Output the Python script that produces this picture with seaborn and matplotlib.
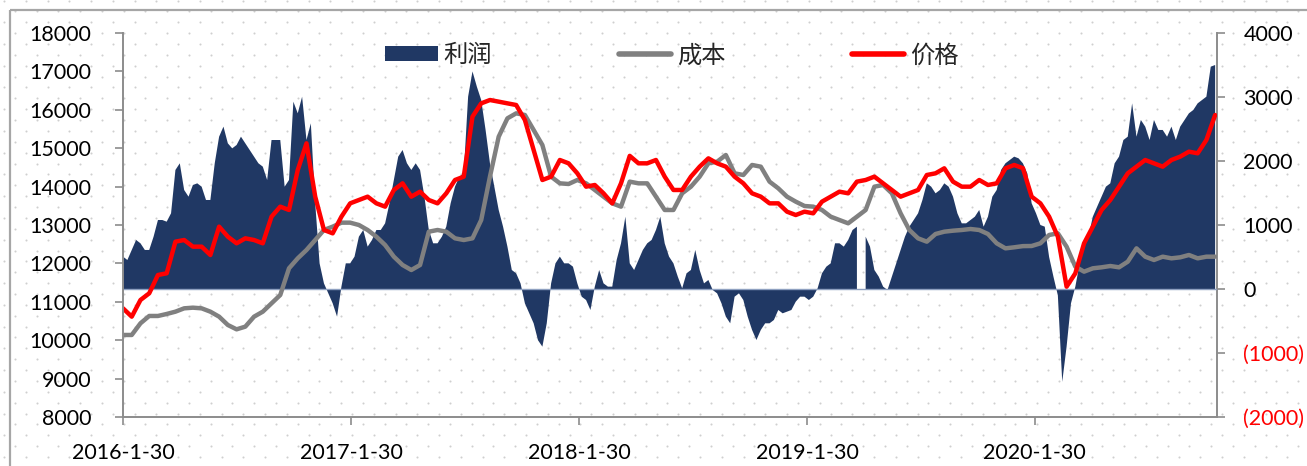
import numpy as np
import pandas as pd
import matplotlib
matplotlib.use("Agg")
import matplotlib.pyplot as plt
import seaborn as sns
from matplotlib.lines import Line2D
from matplotlib.patches import Patch

# ---------------- data ----------------
start_date = "2016-01-30"

# price & cost: 14-day steps
price = [10830, 10613, 11047, 11221, 11698, 11742, 12566, 12609, 12436, 12436,
         12219, 12957, 12696, 12523, 12653, 12609, 12523, 13217, 13478, 13391,
         14432, 15127, 13738, 12870, 12783, 13217, 13564, 13651, 13738, 13564,
         13478, 13912, 14085, 13738, 13868, 13651, 13564, 13825, 14172, 14259,
         15821, 16168, 16255, 16212, 16168, 16125, 15734, 14953, 14172, 14259,
         14693, 14606, 14346, 13998, 14042, 13825, 13564, 14085, 14800, 14606,
         14606, 14693, 14259, 13912, 13912, 14259, 14519, 14736, 14606, 14519,
         14259, 14085, 13825, 13738, 13564, 13564, 13347, 13260, 13347, 13304,
         13608, 13738, 13868, 13825, 14129, 14172, 14259, 14085, 13912, 13738,
         13825, 13912, 14302, 14346, 14476, 14129, 13998, 13998, 14172, 14042,
         14085, 14476, 14563, 14480, 13738, 13564, 13217, 12696, 11394, 11742,
         12523, 12957, 13391, 13651, 13998, 14346, 14519, 14693, 14606, 14519,
         14693, 14780, 14910, 14867, 15214, 15864]

cost = [10136, 10136, 10440, 10631, 10631, 10683, 10743, 10830, 10847, 10830,
        10743, 10613, 10396, 10283, 10353, 10613, 10743, 10960, 11177, 11872,
        12132, 12349, 12609, 12870, 12957, 13061, 13061, 13000, 12870, 12696,
        12479, 12175, 11958, 11828, 11958, 12826, 12870, 12826, 12653, 12609,
        12653, 13130, 14259, 15300, 15778, 15908, 15865, 15474, 15083, 14259,
        14085, 14068, 14172, 14085, 13912, 13738, 13564, 13478, 14129, 14085,
        14085, 13738, 13391, 13391, 13825, 13998, 14259, 14606, 14649, 14823,
        14346, 14302, 14563, 14519, 14129, 13955, 13738, 13608, 13495, 13478,
        13391, 13217, 13130, 13044, 13217, 13391, 13998, 14042, 13825, 13304,
        12870, 12653, 12566, 12766, 12826, 12852, 12870, 12896, 12870, 12766,
        12523, 12392, 12419, 12450, 12453, 12523, 12740, 12783, 12436, 11915,
        11785, 11872, 11898, 11932, 11898, 12045, 12392, 12175, 12089, 12175,
        12132, 12158, 12219, 12132, 12175, 12175]

# profit: 7-day steps (nan = missing data)
profit = [506, 453, 610, 766, 714, 610, 610, 818, 1078, 1078,
          1052, 1183, 1860, 1964, 1547, 1443, 1625, 1651, 1599, 1391,
          1391, 1964, 2380, 2537, 2276, 2198, 2250, 2380, 2276, 2172,
          2068, 1964, 1912, 1703, 2328, 2328, 2328, 1599, 1703, 2927,
          2745, 3005, 2328, 2589, 1339, 401, 88, -68, -224, -432,
          37, 401, 401, 506, 818, 922, 662, 766, 922, 922,
          1026, 1339, 1703, 2068, 2172, 1964, 1860, 1964, 1860, 1443,
          922, 714, 714, 818, 974, 1339, 1599, 1755, 1807, 3005,
          3400, 3162, 2953, 2485, 1964, 1599, 1235, 974, 662, 297,
          245, 88, -224, -380, -536, -800, -901, -536, 88, 401,
          506, 401, 401, 349, 88, -120, -172, -328, 37, 297,
          88, 37, 37, 453, 714, 1130, 401, 297, 453, 610,
          714, 766, 922, 1130, 714, 506, 401, 193, 11, 245,
          297, 610, 297, 88, 141, -16, -68, -224, -432, -536,
          -120, -68, -172, -432, -640, -797, -640, -536, -536, -484,
          -328, -380, -354, -328, -198, -120, -120, -172, -120, 11,
          245, 349, 401, 714, 714, 662, 766, 922, 974, np.nan,
          818, 662, 297, 193, 37, -16, 193, 401, 610, 818,
          974, 1078, 1183, 1391, 1651, 1599, 1495, 1547, 1651, 1599,
          1443, 1183, 1026, 1026, 1078, 1130, 1235, 974, 1130, 1443,
          1547, 1860, 1964, 2016, 2068, 2042, 1964, 1807, 1339, 1183,
          1000, 974, 500, 190, -100, -1450, -900, -224, 37, 401,
          714, 818, 1130, 1287, 1443, 1599, 1651, 1964, 2068, 2328,
          2380, 2901, 2380, 2641, 2537, 2328, 2641, 2485, 2485, 2380,
          2537, 2328, 2537, 2641, 2745, 2797, 2901, 2953, 3005, 3474,
          3500]

series_names = ["利润", "成本", "价格"]
x_tick_dates = ["2016-01-30", "2017-01-30", "2018-01-30", "2019-01-30", "2020-01-30"]
x_tick_labels = ["2016-1-30", "2017-1-30", "2018-1-30", "2019-1-30", "2020-1-30"]
left_ticks = [8000, 9000, 10000, 11000, 12000, 13000, 14000, 15000, 16000, 17000, 18000]
right_ticks = [-2000, -1000, 0, 1000, 2000, 3000, 4000]

# ---------------- style ----------------
NAVY = "#203864"
GRAY = "#808080"
RED = "#FF0000"
SPINE = "#8C8C8C"

sns.set_theme(style="white")
plt.rcParams['font.family'] = ['Lato', 'Noto Sans CJK SC', 'DejaVu Sans']

W, H = 1307, 466
fig = plt.figure(figsize=(W / 100, H / 100), dpi=100)
fig.patch.set_facecolor("white")

# background dotted pattern + outer frame (decoration)
bg = fig.add_axes([0, 0, 1, 1], zorder=-10)
bg.set_xlim(0, W)
bg.set_ylim(H, 0)
bg.axis("off")
dx, dy = 21.75, 10.87
rows = np.arange(0, H + dy, dy)
pts_x, pts_y = [], []
for k, yy in enumerate(rows):
    off = 4 if k % 2 == 0 else 4 + dx / 2
    xs = np.arange(off, W + dx, dx)
    pts_x.extend(xs)
    pts_y.extend([yy + 0.5] * len(xs))
bg.scatter(pts_x, pts_y, s=2.2, color="#CFCFCF", linewidths=0)
bg.plot([10, 10], [H + 5, 10], color="#A6A6A6", lw=1.6, solid_capstyle="butt")
bg.plot([10, W + 5], [10, 10], color="#A6A6A6", lw=1.6, solid_capstyle="butt")

lines_df = pd.DataFrame({
    "date": pd.date_range(start_date, periods=len(price), freq="14D"),
    "价格": price,
    "成本": cost,
})
profit_df = pd.DataFrame({
    "date": pd.date_range(start_date, periods=len(profit), freq="7D"),
    "利润": profit,
})

ax1 = fig.add_axes([123 / W, 1 - 417 / H, (1217 - 123) / W, (417 - 33) / H])
ax2 = ax1.twinx()

# profit area on secondary axis
ax2.fill_between(profit_df["date"], 0, profit_df["利润"], color=NAVY, lw=0)
ax2.axhline(0, color="#8EA0C0", lw=1, zorder=3)

# price & cost lines on primary axis
sns.lineplot(data=lines_df, x="date", y="成本", ax=ax1, color=GRAY, lw=3.2,
             solid_capstyle="round")
sns.lineplot(data=lines_df, x="date", y="价格", ax=ax1, color=RED, lw=3.2,
             solid_capstyle="round")

ax1.set_zorder(ax2.get_zorder() + 1)
ax1.patch.set_visible(False)
ax2.patch.set_visible(False)

ax1.set_xlim(lines_df["date"].iloc[0], lines_df["date"].iloc[-1] + pd.Timedelta(days=3))
ax1.set_ylim(8000, 18000)
ax2.set_ylim(-2000, 4000)

ax1.set_xlabel("")
ax1.set_ylabel("")
ax2.set_ylabel("")

ax1.set_xticks(pd.to_datetime(x_tick_dates))
ax1.set_xticklabels(x_tick_labels)
ax1.set_yticks(left_ticks)
ax1.set_yticklabels([f"{v}" for v in left_ticks])
ax2.set_yticks(right_ticks)
ax2.set_yticklabels([f"{v}" if v >= 0 else f"({-v})" for v in right_ticks])
for lbl, v in zip(ax2.get_yticklabels(), right_ticks):
    lbl.set_color(RED if v < 0 else "black")

ax1.tick_params(axis="x", bottom=True, direction="out", length=6, width=1.2,
                color=SPINE, pad=13, labelsize=15.5, labelcolor="black")
ax1.tick_params(axis="y", left=True, direction="out", length=6, width=1.2,
                color=SPINE, pad=17, labelsize=15.5, labelcolor="black")
ax2.tick_params(axis="y", right=True, direction="out", length=6, width=1.2,
                color=SPINE, pad=13, labelsize=15.5)

for ax in (ax1, ax2):
    for s in ax.spines.values():
        s.set_visible(False)
ax1.spines["left"].set_visible(True)
ax1.spines["bottom"].set_visible(True)
ax2.spines["right"].set_visible(True)
for s in (ax1.spines["left"], ax1.spines["bottom"], ax2.spines["right"]):
    s.set_color(SPINE)
    s.set_linewidth(1.4)

handles = [Patch(facecolor=NAVY, edgecolor="none"),
           Line2D([], [], color=GRAY, lw=4, solid_capstyle="round"),
           Line2D([], [], color=RED, lw=4, solid_capstyle="round")]
fig.legend(handles, series_names, loc="center", bbox_to_anchor=(672 / W, 1 - 55 / H),
           ncol=3, frameon=False, fontsize=17.5, handlelength=2.15,
           handletextpad=0.25, columnspacing=5.2, borderpad=0, handleheight=0.6)

fig.savefig("out.png", dpi=100)
